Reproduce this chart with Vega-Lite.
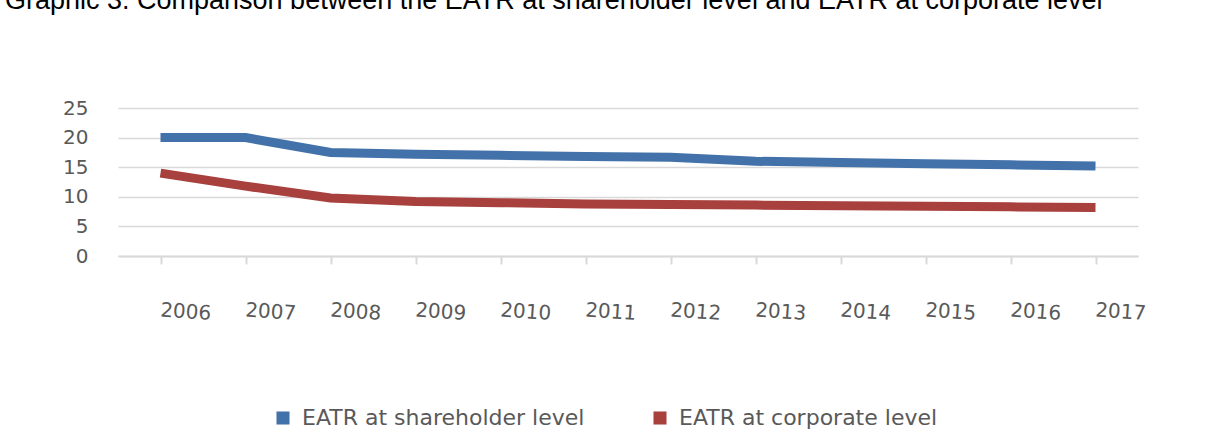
{
  "$schema": "https://vega.github.io/schema/vega-lite/v6.json",
  "width": 1020,
  "height": 148,
  "padding": {"left": 5, "top": -13, "right": 60, "bottom": 0},
  "background": "white",
  "title": {
    "text": "Graphic 3. Comparison between the EATR at shareholder level and EATR at corporate level",
    "anchor": "start",
    "frame": "group",
    "dx": -113,
    "font": "Liberation Sans",
    "fontSize": 27,
    "fontWeight": "normal",
    "color": "#000000",
    "offset": 83
  },
  "config": {
    "view": {"stroke": null},
    "font": "DejaVu Sans"
  },
  "data": {
    "values": [
      {"year": "2006", "series": "EATR at shareholder level", "value": 20.0},
      {"year": "2007", "series": "EATR at shareholder level", "value": 20.0},
      {"year": "2008", "series": "EATR at shareholder level", "value": 17.5},
      {"year": "2009", "series": "EATR at shareholder level", "value": 17.2},
      {"year": "2010", "series": "EATR at shareholder level", "value": 17.0},
      {"year": "2011", "series": "EATR at shareholder level", "value": 16.8},
      {"year": "2012", "series": "EATR at shareholder level", "value": 16.7},
      {"year": "2013", "series": "EATR at shareholder level", "value": 16.0},
      {"year": "2014", "series": "EATR at shareholder level", "value": 15.8},
      {"year": "2015", "series": "EATR at shareholder level", "value": 15.6},
      {"year": "2016", "series": "EATR at shareholder level", "value": 15.4},
      {"year": "2017", "series": "EATR at shareholder level", "value": 15.2},
      {"year": "2006", "series": "EATR at corporate level", "value": 14.0},
      {"year": "2007", "series": "EATR at corporate level", "value": 11.8},
      {"year": "2008", "series": "EATR at corporate level", "value": 9.8},
      {"year": "2009", "series": "EATR at corporate level", "value": 9.2},
      {"year": "2010", "series": "EATR at corporate level", "value": 9.0},
      {"year": "2011", "series": "EATR at corporate level", "value": 8.8},
      {"year": "2012", "series": "EATR at corporate level", "value": 8.7},
      {"year": "2013", "series": "EATR at corporate level", "value": 8.6},
      {"year": "2014", "series": "EATR at corporate level", "value": 8.5},
      {"year": "2015", "series": "EATR at corporate level", "value": 8.4},
      {"year": "2016", "series": "EATR at corporate level", "value": 8.3},
      {"year": "2017", "series": "EATR at corporate level", "value": 8.2}
    ]
  },
  "mark": {"type": "line", "strokeWidth": 9, "strokeJoin": "miter", "strokeCap": "butt"},
  "encoding": {
    "x": {
      "field": "year",
      "type": "ordinal",
      "scale": {"type": "point", "padding": 0.5},
      "axis": {
        "title": null,
        "labelAngle": 4,
        "labelFontSize": 20,
        "labelColor": "#595959",
        "labelPadding": 36,
        "domainColor": "#D9D9D9",
        "domainWidth": 2,
        "tickColor": "#D9D9D9",
        "tickWidth": 2,
        "tickSize": 8,
        "grid": false
      }
    },
    "y": {
      "field": "value",
      "type": "quantitative",
      "scale": {"domain": [0, 25]},
      "axis": {
        "title": null,
        "values": [0, 5, 10, 15, 20, 25],
        "labelFontSize": 20,
        "labelColor": "#595959",
        "labelPadding": 30,
        "domain": false,
        "ticks": false,
        "gridColor": "#D9D9D9",
        "gridWidth": 1.5
      }
    },
    "color": {
      "field": "series",
      "type": "nominal",
      "sort": ["EATR at shareholder level", "EATR at corporate level"],
      "scale": {
        "domain": ["EATR at shareholder level", "EATR at corporate level"],
        "range": ["#4371A9", "#A8403D"]
      },
      "legend": {
        "title": null,
        "orient": "none",
        "legendX": 154,
        "legendY": 299,
        "direction": "horizontal",
        "symbolType": "square",
        "symbolSize": 170,
        "symbolStrokeWidth": 0,
        "labelFontSize": 22,
        "labelColor": "#595959",
        "labelLimit": 0,
        "labelOffset": 8,
        "columnPadding": 64,
        "encode": {
          "symbols": {
            "update": {
              "fill": {"scale": "color", "field": "value"},
              "stroke": {"value": "transparent"}
            }
          }
        }
      }
    }
  }
}
